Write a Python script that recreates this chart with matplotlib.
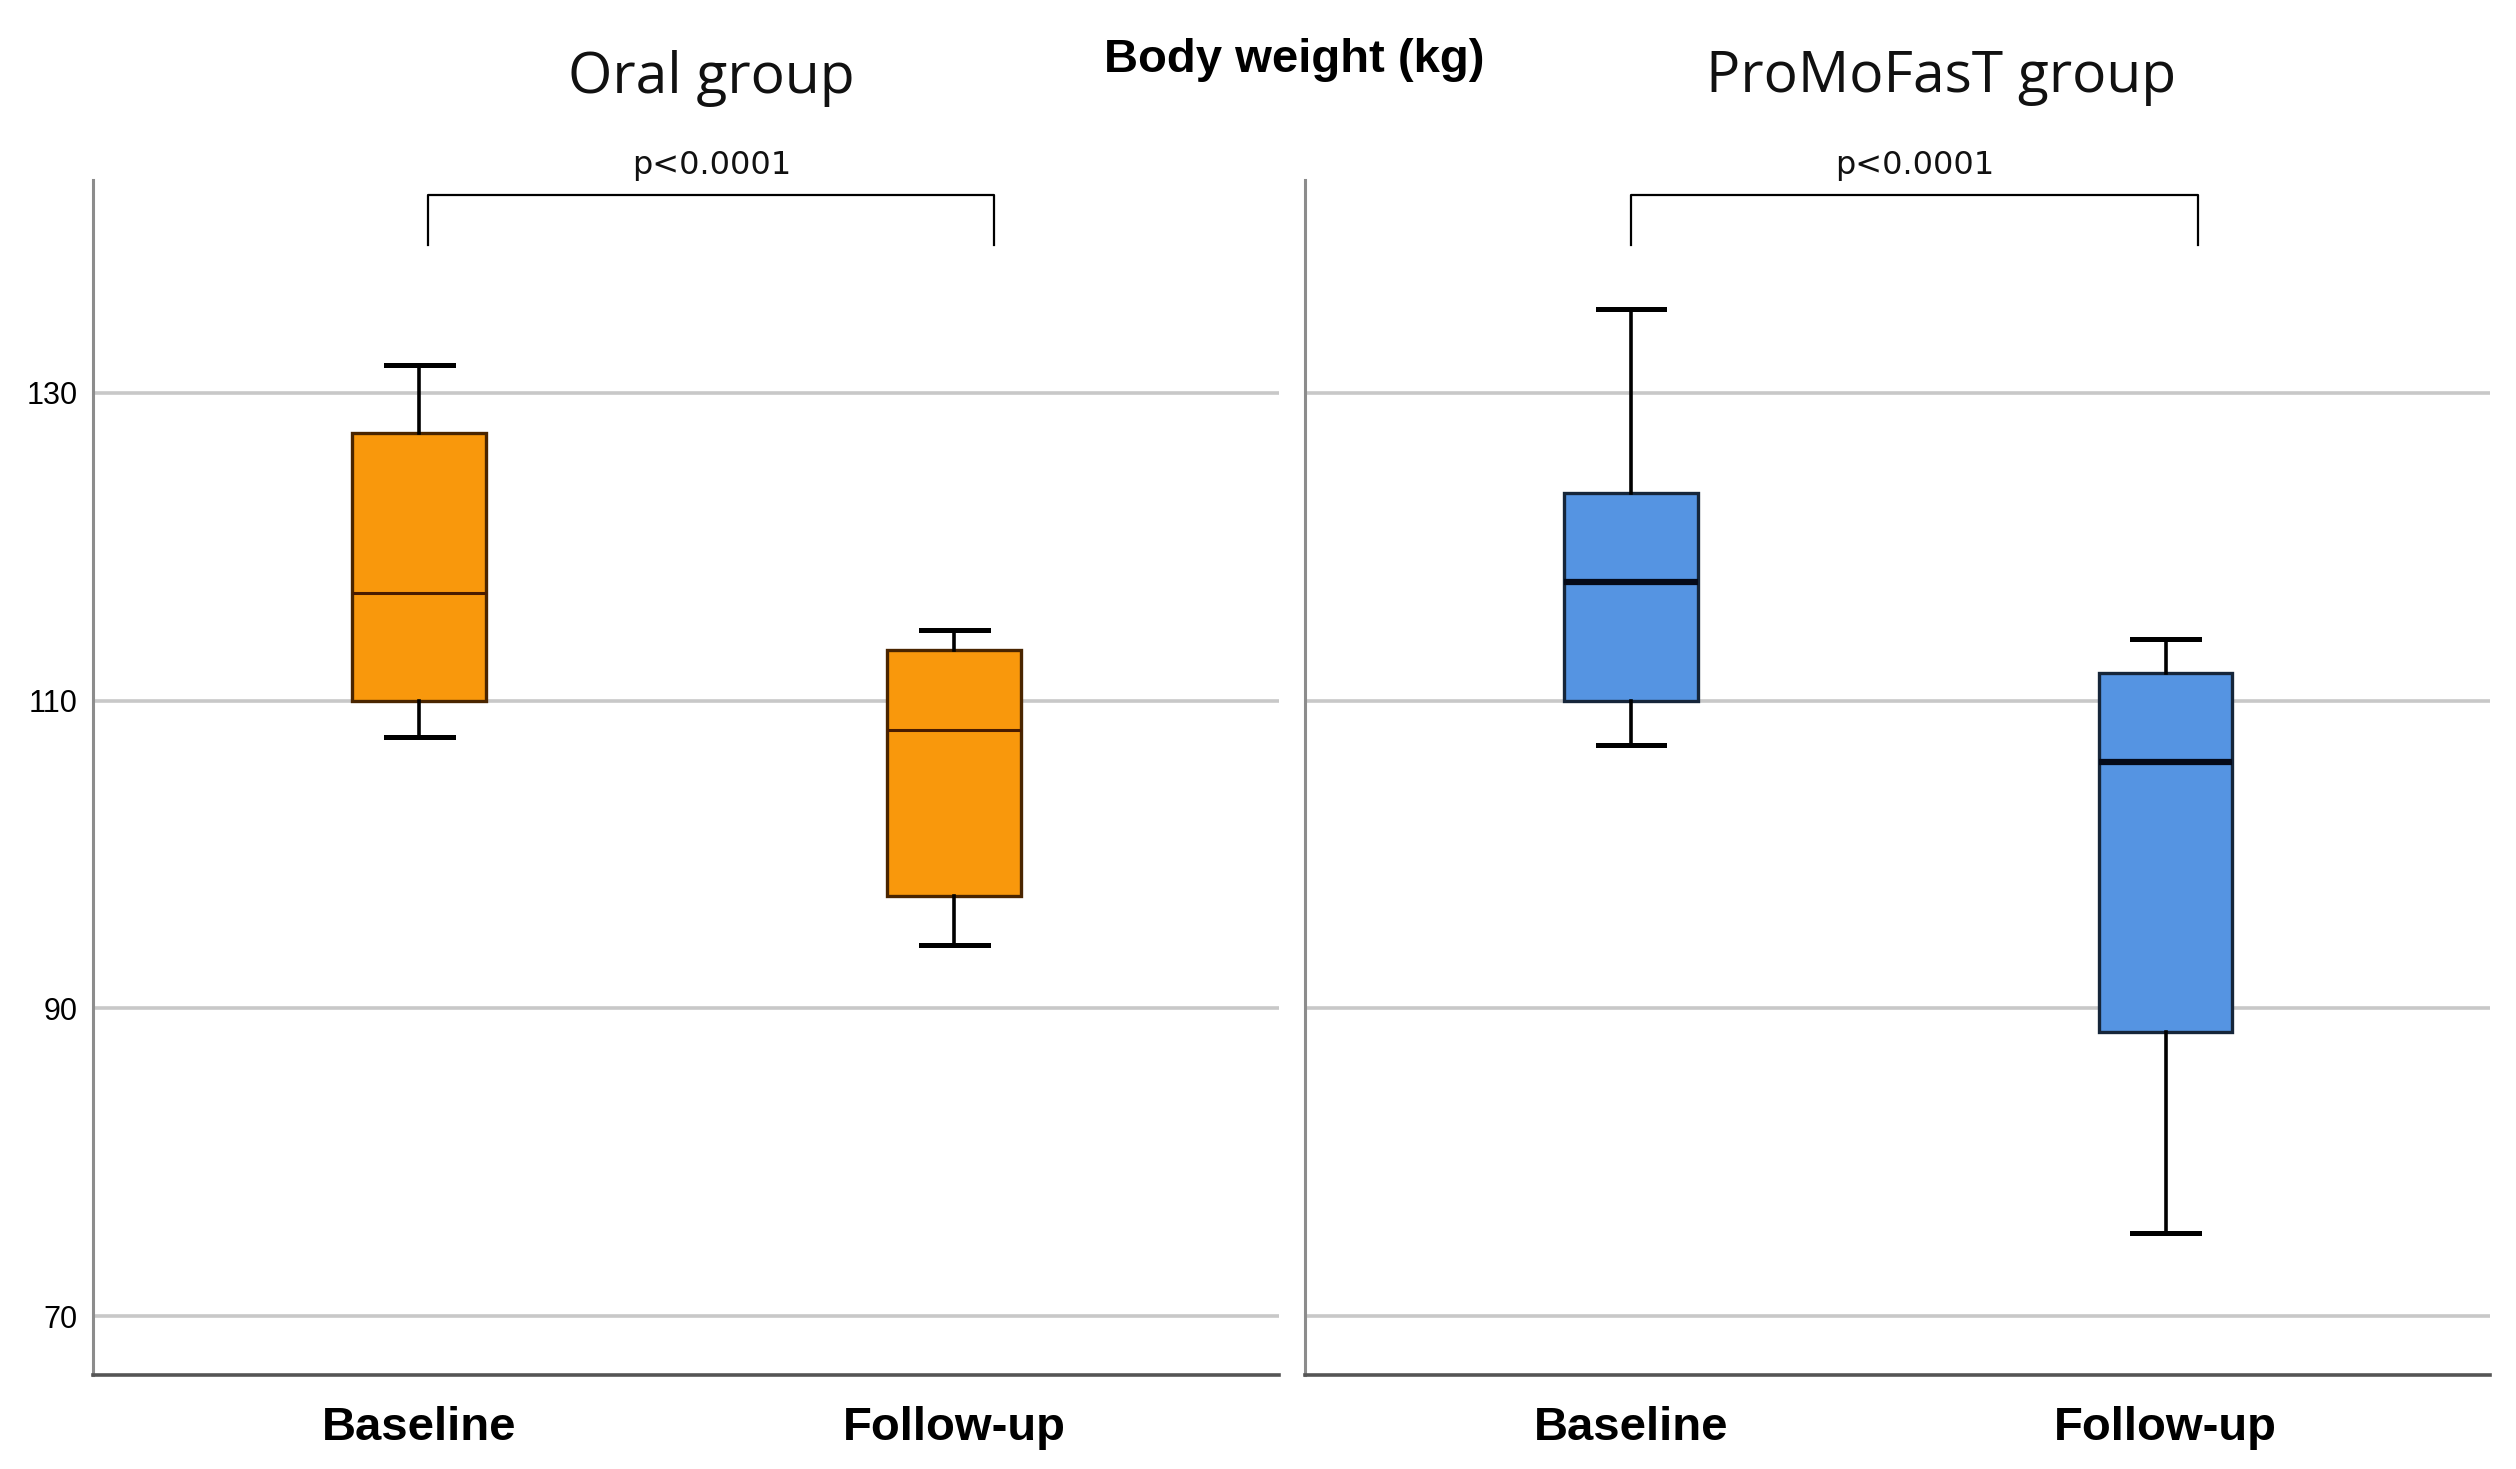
import matplotlib.pyplot as plt

categories = ['Baseline', 'Follow-up']
yticks = [70, 90, 110, 130]

# box statistics (kg)
oral_whislo = [107.6, 94.1]
oral_q1 = [110.0, 97.3]
oral_med = [117.0, 108.1]
oral_q3 = [127.4, 113.3]
oral_whishi = [131.8, 114.6]

promo_whislo = [107.1, 75.4]
promo_q1 = [110.0, 88.5]
promo_med = [117.7, 106.0]
promo_q3 = [123.5, 111.8]
promo_whishi = [135.4, 114.0]

groups = ['Oral group', 'ProMoFasT group']
p_values = ['p<0.0001', 'p<0.0001']


def make_stats(lo, q1, med, q3, hi):
    return [dict(whislo=lo[i], q1=q1[i], med=med[i], q3=q3[i], whishi=hi[i],
                 fliers=[], label=categories[i]) for i in range(len(categories))]


panels = [
    dict(stats=make_stats(oral_whislo, oral_q1, oral_med, oral_q3, oral_whishi),
         face='#F9980C', edge='#4a2500', med_color='#4a1c00', med_lw=2.2,
         bracket=(0.017, 1.075)),
    dict(stats=make_stats(promo_whislo, promo_q1, promo_med, promo_q3, promo_whishi),
         face='#5594E2', edge='#16263a', med_color='#050a18', med_lw=4.5,
         bracket=(0.0, 1.06)),
]

W, H = 2516, 1469
fig = plt.figure(figsize=(W / 100, H / 100), dpi=100)
ax_left = fig.add_axes([93 / W, 1 - 1375 / H, 1186 / W, 1195 / H])
ax_right = fig.add_axes([1305 / W, 1 - 1375 / H, 1185 / W, 1195 / H])

for ax, panel, pval in zip([ax_left, ax_right], panels, p_values):
    ax.bxp(panel['stats'], positions=[0, 1], widths=0.25, patch_artist=True,
           showfliers=False,
           boxprops=dict(facecolor=panel['face'], edgecolor=panel['edge'], linewidth=2.4),
           medianprops=dict(color=panel['med_color'], linewidth=panel['med_lw']),
           whiskerprops=dict(color='black', linewidth=2.6),
           capprops=dict(color='black', linewidth=3.6),
           capwidths=0.125)

    ax.set_xlim(-0.61, 1.607)
    ax.set_ylim(66.2, 143.8)
    ax.set_yticks(yticks)
    ax.set_axisbelow(True)
    ax.grid(axis='y', color='#c8c8c8', linewidth=2.6)

    for side in ['top', 'right']:
        ax.spines[side].set_visible(False)
    ax.spines['left'].set_color('#8c8c8c')
    ax.spines['left'].set_linewidth(2.2)
    ax.spines['bottom'].set_color('#555555')
    ax.spines['bottom'].set_linewidth(2.6)

    ax.tick_params(axis='both', length=0)
    ax.tick_params(axis='x', pad=22)
    ax.set_xticks([0, 1])
    ax.set_xticklabels(categories, fontfamily='Liberation Sans', fontweight='bold', fontsize=34)

    # significance bracket
    x0, x1 = panel['bracket']
    ax.plot([x0, x0, x1, x1], [139.6, 142.8, 142.8, 139.6], color='black',
            linewidth=1.6, clip_on=False)
    ax.text((x0 + x1) / 2, 144.2, pval, ha='center', va='baseline',
            fontfamily='DejaVu Sans', fontsize=23, color='#111111', clip_on=False)

ax_left.set_yticklabels([str(t) for t in yticks], fontfamily='Liberation Sans', fontsize=22)
ax_left.tick_params(axis='y', pad=11)
ax_right.set_yticklabels([])

fig.text(711 / W, 1 - 93 / H, groups[0], ha='center', va='baseline',
         fontfamily='Open Sans', fontsize=41, color='#111111')
fig.text(1941 / W, 1 - 92 / H, groups[1], ha='center', va='baseline',
         fontfamily='Open Sans', fontsize=41, color='#111111')
fig.text(1294 / W, 1 - 72 / H, 'Body weight (kg)', ha='center', va='baseline',
         fontfamily='Liberation Sans', fontweight='bold', fontsize=34)

plt.savefig('out.png', dpi=100)
plt.close()
